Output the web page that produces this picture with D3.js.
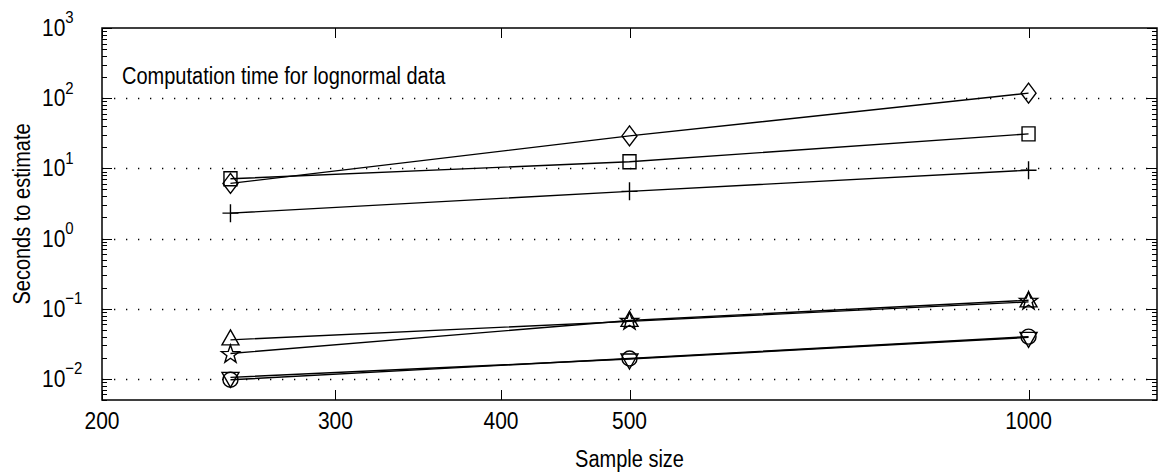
<!DOCTYPE html>
<html>
<head>
<meta charset="utf-8">
<script src="https://cdn.jsdelivr.net/npm/d3@7"></script>
<style>
  body { margin: 0; background: #fff; }
  svg text { font-family: "Liberation Sans", Arial, sans-serif; fill: #000; }
</style>
</head>
<body>
<div id="chart"></div>
<script>
// sample sizes and seconds per method
var sampleSizes = [250, 500, 1000];
var diamondTimes = [6.1, 29, 118];
var squareTimes = [7.1, 12.4, 31];
var plusTimes = [2.3, 4.7, 9.4];
var triUpTimes = [0.036, 0.066, 0.125];
var starTimes = [0.023, 0.068, 0.132];
var circleTimes = [0.0097, 0.0195, 0.040];
var triDownTimes = [0.0105, 0.0192, 0.039];

var xTicks = [200, 300, 400, 500, 1000];
var yTicks = [1e-2, 1e-1, 1e0, 1e1, 1e2, 1e3];
var yExps = ["\u22122", "\u22121", "0", "1", "2", "3"];
var titleText = "Computation time for lognormal data";

var W = 1161, H = 476;
var margin = {top: 28, left: 102, right: 4, bottom: 76};
var width = W - margin.left - margin.right,
    height = H - margin.top - margin.bottom;
var stretch = " scale(1,1.15)"; // glyphs in the original look a bit tall

var svg = d3.select("#chart").append("svg")
    .attr("width", W).attr("height", H);
var g = svg.append("g")
    .attr("transform", "translate(" + margin.left + "," + margin.top + ")");

var x = d3.scaleLog().domain([200, 1250]).range([0, width]);
var y = d3.scaleLog().domain([0.005, 1000]).range([height, 0]);

// dotted grid at decades
g.selectAll(".grid").data(yTicks.slice(0, 5)).enter().append("line")
    .attr("class", "grid")
    .attr("x1", 0).attr("x2", width)
    .attr("y1", function(d){ return Math.round(y(d)) + 0.5; })
    .attr("y2", function(d){ return Math.round(y(d)) + 0.5; })
    .attr("stroke", "#000").attr("stroke-width", 1.3)
    .attr("stroke-dasharray", "1.3,10.7");

// minor y ticks
var minor = [];
for (var e = -3; e < 3; e++) {
  for (var m = 2; m <= 9; m++) {
    var v = m * Math.pow(10, e);
    if (v >= 0.005 && v <= 1000) minor.push(v);
  }
}

function ticks(sel, vals, len) {
  sel.selectAll(null).data(vals).enter().append("line")
    .attr("x1", 0).attr("x2", len)
    .attr("y1", function(d){ return Math.round(y(d)) + 0.5; })
    .attr("y2", function(d){ return Math.round(y(d)) + 0.5; })
    .attr("stroke", "#000").attr("stroke-width", 1);
  sel.selectAll(null).data(vals).enter().append("line")
    .attr("x1", width).attr("x2", width - len)
    .attr("y1", function(d){ return Math.round(y(d)) + 0.5; })
    .attr("y2", function(d){ return Math.round(y(d)) + 0.5; })
    .attr("stroke", "#000").attr("stroke-width", 1);
}
var tg = g.append("g");
ticks(tg, minor, 5);
ticks(tg, yTicks, 10);

// x ticks bottom and top
tg.selectAll(null).data(xTicks).enter().append("line")
    .attr("x1", function(d){ return Math.round(x(d)) + 0.5; })
    .attr("x2", function(d){ return Math.round(x(d)) + 0.5; })
    .attr("y1", height).attr("y2", height - 10)
    .attr("stroke", "#000");
tg.selectAll(null).data(xTicks).enter().append("line")
    .attr("x1", function(d){ return Math.round(x(d)) + 0.5; })
    .attr("x2", function(d){ return Math.round(x(d)) + 0.5; })
    .attr("y1", 0).attr("y2", 10)
    .attr("stroke", "#000");

// box
g.append("rect").attr("x", 0).attr("y", 0)
    .attr("width", width).attr("height", height)
    .attr("fill", "none").attr("stroke", "#000").attr("stroke-width", 1.5);

// tick labels
g.selectAll(".xl").data(xTicks).enter().append("text")
    .attr("transform", function(d){ return "translate(" + x(d) + "," + (height + 29) + ")" + stretch; })
    .attr("text-anchor", "middle")
    .style("font-size", "21px")
    .text(function(d){ return d; });

var yl = g.selectAll(".yl").data(yTicks).enter().append("text")
    .attr("transform", function(d){ return "translate(-60," + (y(d) + 8) + ")" + stretch; })
    .style("font-size", "21px");
yl.append("tspan").text("10");
yl.append("tspan").attr("dy", -11).style("font-size", "15px")
    .text(function(d, i){ return yExps[i]; });

// axis labels
svg.append("text")
    .attr("transform", "translate(" + (margin.left + width / 2) + ",467)" + stretch)
    .attr("text-anchor", "middle").style("font-size", "20px")
    .text("Sample size");
svg.append("text")
    .attr("transform", "translate(30," + (margin.top + height / 2) + ") rotate(-90)" + stretch)
    .attr("text-anchor", "middle").style("font-size", "20px")
    .text("Seconds to estimate");

g.append("text")
    .attr("transform", "translate(20,56)" + stretch)
    .style("font-size", "20px").text(titleText);

// series
var series = [
  {vals: diamondTimes, sym: "diamond"},
  {vals: squareTimes, sym: "square"},
  {vals: plusTimes, sym: "plus"},
  {vals: triUpTimes, sym: "triup"},
  {vals: starTimes, sym: "star"},
  {vals: circleTimes, sym: "circle"},
  {vals: triDownTimes, sym: "tridown"}
];

function markerPath(sym) {
  switch (sym) {
    case "diamond": return "M0,-10L7.5,0L0,10L-7.5,0Z";
    case "square": return "M-6.5,-7H6.5V7H-6.5Z";
    case "plus": return "M-8,0H8M0,-9V9";
    case "triup": return "M0,-10L8.5,5L-8.5,5Z";
    case "tridown": return "M0,10L8.5,-5L-8.5,-5Z";
    case "circle": return "M7.5,0A7.5,7.5 0 1,1 -7.5,0A7.5,7.5 0 1,1 7.5,0Z";
    case "star":
      var pts = [];
      for (var i = 0; i < 10; i++) {
        var r = i % 2 ? 3.8 : 9.5;
        var a = -Math.PI / 2 + i * Math.PI / 5;
        pts.push([r * Math.cos(a), r * Math.sin(a) + 1]);
      }
      return "M" + pts.join("L") + "Z";
  }
}

var line = d3.line()
    .x(function(d){ return x(d[0]); })
    .y(function(d){ return y(d[1]); });

series.forEach(function(s) {
  var pts = sampleSizes.map(function(n, i){ return [n, s.vals[i]]; });
  g.append("path").attr("d", line(pts))
      .attr("fill", "none").attr("stroke", "#000").attr("stroke-width", 1.4);
  g.selectAll(null).data(pts).enter().append("path")
      .attr("transform", function(d){ return "translate(" + x(d[0]) + "," + y(d[1]) + ")"; })
      .attr("d", markerPath(s.sym))
      .attr("fill", "none").attr("stroke", "#000").attr("stroke-width", 1.4);
});
</script>
</body>
</html>
